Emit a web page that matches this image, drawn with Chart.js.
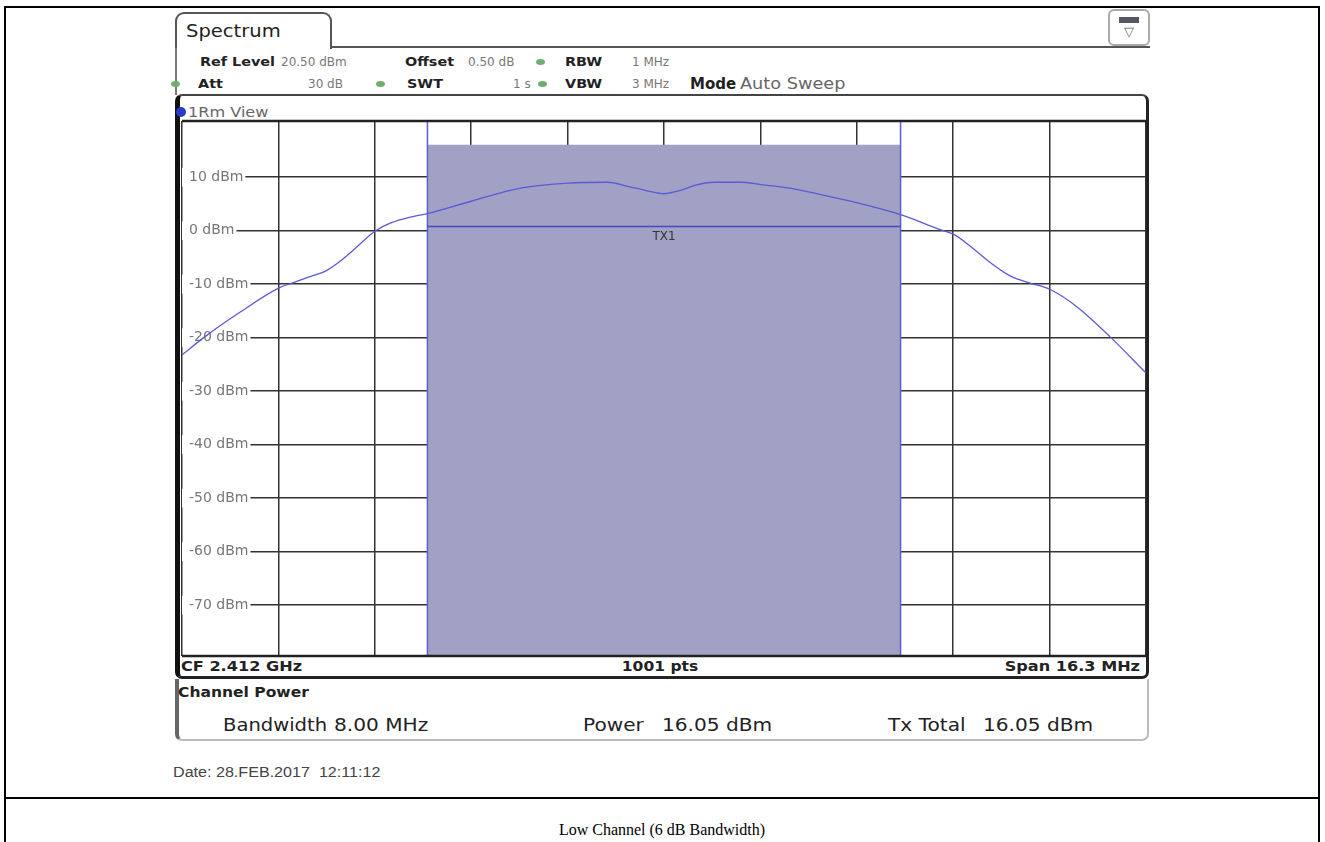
<!DOCTYPE html>
<html>
<head>
<meta charset="utf-8">
<script src="https://cdn.jsdelivr.net/npm/chart.js@4.4.1/dist/chart.umd.min.js"></script>
<style>
  html, body { margin: 0; padding: 0; background: #fff; width: 1325px; height: 842px; overflow: hidden; }
  #page { position: relative; width: 1325px; height: 842px; font-family: "DejaVu Sans", sans-serif; }
  .abs { position: absolute; box-sizing: border-box; }
  .t { position: absolute; white-space: pre; line-height: 16px; color: #777; font-size: 12px; }
  .b { font-weight: bold; color: #222; font-size: 13px; }
  .sx { transform: scaleX(1.15); transform-origin: 0 50%; }
  .dot { position: absolute; width: 9px; height: 6px; border-radius: 50%; background: #6fae6f; }
  #chart { position: absolute; left: 0; top: 0; z-index: 1; }
  .over { z-index: 2; }
</style>
</head>
<body>
<div id="page">
  <!-- table cell around the screenshot -->
  <div class="abs" style="left:4px; top:6px; width:1316px; height:900px; border:2px solid #000;"></div>
  <div class="abs" style="left:4px; top:797px; width:1316px; height:2px; background:#000;"></div>
  <div class="t" style="left:4px; width:1316px; top:821px; line-height:18px; text-align:center; font-family:'Liberation Serif', serif; font-size:16px; color:#000;">Low Channel (6 dB Bandwidth)</div>

  <!-- Spectrum tab -->
  <div class="abs" style="left:175px; top:12px; width:157px; height:37px; border:2px solid #555; border-bottom:none; border-radius:9px 9px 0 0;"></div>
  <div class="abs" style="left:330px; top:46px; width:820px; height:2px; background:#555;"></div>
  <div class="abs" style="left:175px; top:48px; width:2px; height:47px; background:#777;"></div>
  <div class="t sx" style="left:186px; top:22px; line-height:18px; font-size:17px; color:#222;">Spectrum</div>

  <!-- icon top right -->
  <div class="abs" style="left:1108px; top:9px; width:42px; height:37px; border:2px solid #aaa; border-radius:6px; background:#fff;"></div>
  <div class="abs" style="left:1119px; top:17px; width:20px; height:6px; background:#556;"></div>
  <div class="t" style="left:1108px; width:42px; top:24px; text-align:center; font-size:13px; color:#667;">▽</div>

  <!-- header settings -->
  <div class="t b sx" style="left:200px; top:54px; font-size:12.5px;">Ref Level</div>
  <div class="t" style="left:281px; top:54px;">20.50 dBm</div>
  <div class="t b sx" style="left:405px; top:54px; font-size:12.5px;">Offset</div>
  <div class="t" style="left:468px; top:54px;">0.50 dB</div>
  <div class="dot" style="left:536px; top:59px;"></div>
  <div class="t b sx" style="left:565px; top:54px; font-size:12.5px;">RBW</div>
  <div class="t" style="left:632px; top:54px;">1 MHz</div>

  <div class="dot" style="left:171px; top:81px;"></div>
  <div class="t b sx" style="left:198px; top:76px; font-size:12.5px;">Att</div>
  <div class="t" style="left:308px; top:76px;">30 dB</div>
  <div class="dot" style="left:376px; top:81px;"></div>
  <div class="t b sx" style="left:407px; top:76px; font-size:12.5px;">SWT</div>
  <div class="t" style="left:513px; top:76px;">1 s</div>
  <div class="dot" style="left:538px; top:81px;"></div>
  <div class="t b sx" style="left:565px; top:76px; font-size:12.5px;">VBW</div>
  <div class="t" style="left:632px; top:76px;">3 MHz</div>
  <div class="t b" style="left:690px; top:76px; font-size:15px;">Mode</div>
  <div class="t" style="left:740px; top:76px; font-size:15px; color:#666; transform:scaleX(1.18); transform-origin:0 50%;">Auto Sweep</div>

  <!-- 1Rm View window -->
  <div class="abs over" style="left:175px; top:94px; width:974px; height:585px; border:2px solid #444; border-left:5px solid #111; border-right:3px solid #222; border-bottom:3px solid #222; border-radius:7px;"></div>
  <div class="abs over" style="left:176px; top:107px; width:10px; height:10px; border-radius:50%; background:#2a3bc8;"></div>
  <div class="t sx" style="left:188px; top:104px; font-size:14px; color:#666;">1Rm View</div>
  <div class="t b sx" style="left:181px; top:658px; font-size:14px;">CF 2.412 GHz</div>
  <div class="t b" style="left:560px; width:200px; top:658px; text-align:center; font-size:13.5px; transform:scaleX(1.15);">1001 pts</div>
  <div class="t b" style="left:900px; width:240px; top:658px; text-align:right; font-size:14px; transform:scaleX(1.15); transform-origin:100% 50%;">Span 16.3 MHz</div>

  <!-- Channel Power result box -->
  <div class="abs" style="left:175px; top:679px; width:974px; height:62px; border:2px solid #bbb; border-top:none; border-left:4px solid #666; border-radius:0 0 7px 7px;"></div>
  <div class="t b sx" style="left:178px; top:684px; font-size:13.5px;">Channel Power</div>
  <div class="t sx" style="left:223px; top:715px; line-height:20px; font-size:17px; color:#222;">Bandwidth</div>
  <div class="t sx" style="left:334px; top:715px; line-height:20px; font-size:17.5px; color:#222;">8.00 MHz</div>
  <div class="t sx" style="left:583px; top:715px; line-height:20px; font-size:17.5px; color:#222;">Power</div>
  <div class="t sx" style="left:662px; top:715px; line-height:20px; font-size:17.5px; color:#222;">16.05 dBm</div>
  <div class="t sx" style="left:888px; top:715px; line-height:20px; font-size:17.5px; color:#222;">Tx Total</div>
  <div class="t sx" style="left:983px; top:715px; line-height:20px; font-size:17.5px; color:#222;">16.05 dBm</div>

  <div class="t sx" style="left:173px; top:764px; font-family:'Liberation Sans', Arial, sans-serif; font-size:14px; color:#444;">Date: 28.FEB.2017  12:11:12</div>

  <canvas id="chart" width="1325" height="842"></canvas>
</div>

<script>
// screen settings
const refLevel = 20.5;      // dBm, top of grid
const bottomLevel = -79.5;  // dBm, bottom of grid
const halfSpan = 8.15;      // MHz either side of CF

// grid / tick values
const xGridLines = [-8.15, -6.52, -4.89, -3.26, -1.63, 0, 1.63, 3.26, 4.89, 6.52, 8.15];
const yTickValues = [10, 0, -10, -20, -30, -40, -50, -60, -70];

const traceFreq = [-8.15, -7.76, -7.19, -6.51, -6.29, -5.96, -5.73, -5.51, -5.28, -5.06,
  -4.89, -4.61, -4.27, -4.00, -3.26, -2.41, -1.62, -0.95, -0.61, -0.27,
  0.00, 0.23, 0.57, 0.85, 1.30, 1.64, 2.09, 2.65, 3.27, 4.00,
  4.67, 4.90, 5.18, 5.52, 5.86, 6.19, 6.53, 6.98, 7.54, 8.15];
const traceLevel = [-23.2, -19.8, -15.4, -10.7, -9.8, -8.5, -7.6, -6.0, -3.9, -1.7,
  -0.1, 1.5, 2.6, 3.2, 5.5, 8.0, 8.9, 9.05, 8.3, 7.4,
  6.9, 7.4, 8.6, 9.05, 9.05, 8.6, 8.0, 6.75, 5.2, 3.0,
  0.2, -0.7, -2.9, -6.0, -8.5, -9.8, -11.0, -14.2, -19.8, -26.6];

// channel power measurement
const channelEdges = [-4, 4];
const channelPower = 16.05;
const tx1Level = 0.8;

const toPoints = (xs, ys) => xs.map((x, i) => ({ x, y: ys[i] }));

const framePlugin = {
  id: 'frame',
  afterDatasetsDraw(chart) {
    const { ctx, chartArea: a, scales } = chart;
    ctx.save();
    ctx.strokeStyle = '#222';
    ctx.lineWidth = 2.5;
    ctx.beginPath();
    ctx.moveTo(a.left, a.top); ctx.lineTo(a.right, a.top);
    ctx.moveTo(a.left, a.bottom); ctx.lineTo(a.right, a.bottom);
    ctx.stroke();
    ctx.fillStyle = '#333';
    ctx.font = '12px "DejaVu Sans"';
    ctx.textAlign = 'center';
    ctx.textBaseline = 'top';
    ctx.fillText('TX1', scales.x.getPixelForValue(0), scales.y.getPixelForValue(tx1Level) + 4);
    ctx.restore();
  }
};

new Chart(document.getElementById('chart'), {
  type: 'line',
  data: {
    datasets: [
      {
        label: 'Trace',
        data: toPoints(traceFreq, traceLevel),
        borderColor: '#5a5ad8',
        borderWidth: 1.3,
        pointRadius: 0,
        cubicInterpolationMode: 'monotone',
        order: 0
      },
      {
        label: 'TX1',
        data: channelEdges.map(x => ({ x, y: tx1Level })),
        borderColor: '#4848c4',
        borderWidth: 1.5,
        pointRadius: 0,
        order: 1
      },
      {
        label: 'Lower edge',
        data: [{ x: channelEdges[0], y: bottomLevel }, { x: channelEdges[0], y: refLevel }],
        borderColor: '#5c5ce0',
        borderWidth: 1.5,
        pointRadius: 0,
        order: 2
      },
      {
        label: 'Upper edge',
        data: [{ x: channelEdges[1], y: bottomLevel }, { x: channelEdges[1], y: refLevel }],
        borderColor: '#5c5ce0',
        borderWidth: 1.5,
        pointRadius: 0,
        order: 3
      },
      {
        label: 'Channel',
        data: channelEdges.map(x => ({ x, y: channelPower })),
        borderColor: 'rgba(0,0,0,0)',
        borderWidth: 0,
        backgroundColor: '#a0a1c4',
        fill: 'start',
        pointRadius: 0,
        order: 5
      }
    ]
  },
  options: {
    responsive: false,
    animation: false,
    events: [],
    layout: { padding: { left: 168, top: 121, right: 179, bottom: 186 } },
    plugins: { legend: { display: false }, tooltip: { enabled: false } },
    scales: {
      x: {
        type: 'linear',
        min: -halfSpan,
        max: halfSpan,
        afterBuildTicks: s => { s.ticks = xGridLines.map(v => ({ value: v })); },
        ticks: { display: false },
        grid: { color: '#333', lineWidth: 1.5, drawTicks: false },
        border: { display: false }
      },
      y: {
        type: 'linear',
        min: bottomLevel,
        max: refLevel,
        afterBuildTicks: s => { s.ticks = yTickValues.map(v => ({ value: v })); },
        ticks: {
          mirror: true,
          padding: 7,
          color: '#777',
          font: { family: 'DejaVu Sans', size: 14 },
          callback: v => v + ' dBm',
          showLabelBackdrop: true,
          backdropColor: '#fff',
          backdropPadding: { left: 7, right: 2, top: 1, bottom: 1 }
        },
        grid: { color: '#333', lineWidth: 1.5, drawTicks: false },
        border: { display: false }
      }
    }
  },
  plugins: [framePlugin]
});
</script>
</body>
</html>
